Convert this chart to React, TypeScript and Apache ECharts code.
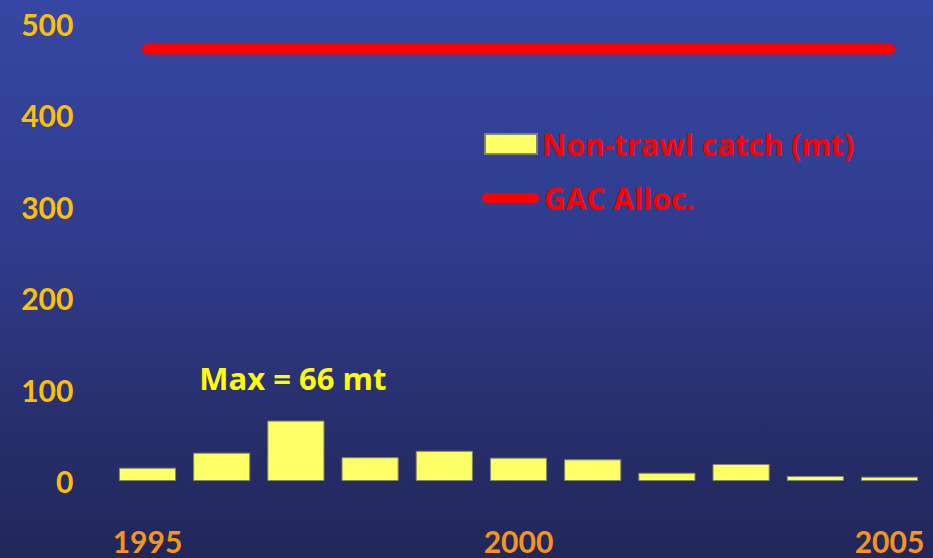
import React, { useEffect, useRef } from "react";
import * as echarts from "echarts";

const years = ["1995", "1996", "1997", "1998", "1999", "2000", "2001", "2002", "2003", "2004", "2005"];
const catch_mt = [14.5, 31, 66, 26, 33, 25.5, 23.7, 9, 18.6, 5.5, 4.7];
const gacAlloc = [472, 472, 472, 472, 472, 472, 472, 472, 472, 472, 472];
const yTicks = [0, 100, 200, 300, 400, 500];
const shownYears = ["1995", "2000", "2005"];
const maxNote = "Max = 66 mt";

const FONT = "Lato, 'Open Sans', sans-serif";
const WIDE = "'Open Sans', Lato, sans-serif";

export default function App() {
  const ref = useRef<HTMLDivElement>(null);
  useEffect(() => {
    if (!ref.current) return;
    const chart = echarts.init(ref.current, null, { renderer: "svg" });
    const maxVal = Math.max(...catch_mt);
    chart.setOption({
      animation: false,
      backgroundColor: {
        type: "linear",
        x: 0, y: 0, x2: 0, y2: 1,
        colorStops: [
          { offset: 0, color: "#3646a2" },
          { offset: 0.45, color: "#2f3c8c" },
          { offset: 0.75, color: "#272f6c" },
          { offset: 1, color: "#21275a" },
        ],
      },
      grid: { left: 110.4, right: 6.4, top: 23.5, bottom: 77 },
      legend: [
        {
          data: [{ name: "Non-trawl catch (mt)", icon: "rect" }],
          left: 484,
          top: 129,
          padding: 0,
          itemWidth: 52,
          itemHeight: 20,
          textStyle: { color: "#ff0000", fontFamily: WIDE, fontWeight: "bold", fontSize: 30 },
          selectedMode: false,
        },
        {
          data: [{ name: "GAC Alloc.", icon: "path://M5,0 L52,0 A5,5 0 0 1 52,10 L5,10 A5,5 0 0 1 5,0 Z" }],
          left: 482,
          top: 183,
          padding: 0,
          itemWidth: 57,
          itemHeight: 20,
          textStyle: { color: "#ff0000", fontFamily: WIDE, fontWeight: "bold", fontSize: 30 },
          selectedMode: false,
        },
      ],
      xAxis: {
        type: "category",
        data: years,
        axisLine: { show: false },
        axisTick: { show: false },
        axisLabel: {
          interval: 0,
          margin: 45,
          color: "#f7941d",
          fontFamily: FONT,
          fontWeight: "bold",
          fontSize: 30,
          formatter: (v: string) => (shownYears.includes(v) ? v : ""),
        },
      },
      yAxis: {
        type: "value",
        min: yTicks[0],
        max: yTicks[yTicks.length - 1],
        interval: 100,
        splitLine: { show: false },
        axisLine: { show: false },
        axisTick: { show: false },
        axisLabel: {
          margin: 37,
          color: "#ffc000",
          fontFamily: FONT,
          fontWeight: "bold",
          fontSize: 30,
        },
      },
      series: [
        {
          name: "Non-trawl catch (mt)",
          type: "bar",
          barCategoryGap: "23%",
          data: catch_mt.map((v) =>
            v === maxVal
              ? {
                  value: v,
                  label: {
                    show: true,
                    position: "top",
                    distance: 27,
                    offset: [-3, 0],
                    formatter: maxNote,
                    color: "#ffff00",
                    fontFamily: WIDE,
                    fontWeight: "bold",
                    fontSize: 31,
                  },
                }
              : v
          ),
          itemStyle: { color: "#ffff66", borderColor: "#85856a", borderWidth: 1 },
        },
        {
          name: "GAC Alloc.",
          type: "line",
          data: gacAlloc,
          symbol: "none",
          lineStyle: { color: "#ff0000", width: 11, cap: "round" },
          itemStyle: { color: "#ff0000" },
        },
      ],
    });
    return () => chart.dispose();
  }, []);
  return <div ref={ref} style={{ width: 933, height: 558, position: "fixed", left: 0, top: 0 }} />;
}
